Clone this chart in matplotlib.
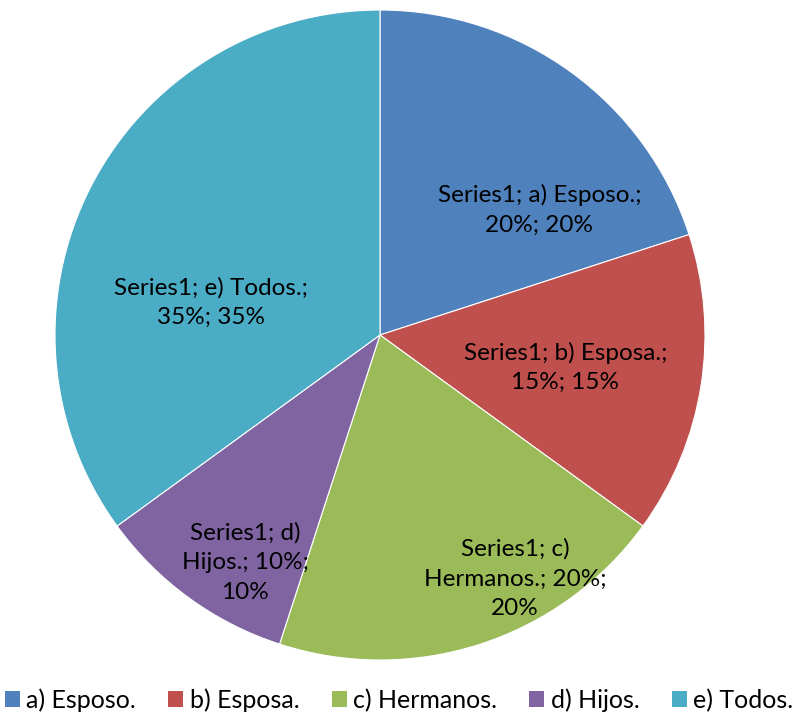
import matplotlib.pyplot as plt
from matplotlib.patches import Patch

plt.rcParams['font.family'] = ['Lato', 'DejaVu Sans']

categories = ["a) Esposo.", "b) Esposa.", "c) Hermanos.", "d) Hijos.", "e) Todos."]
values = [20, 15, 20, 10, 35]
colors = ["#4F81BD", "#C0504D", "#9BBB59", "#8064A2", "#4BACC6"]
series_name = "Series1"

# label text, wrapped like the original
label_texts = [
    "Series1; a) Esposo.;\n20%; 20%",
    "Series1; b) Esposa.;\n15%; 15%",
    "Series1; c)\nHermanos.; 20%;\n20%",
    "Series1; d)\nHijos.; 10%;\n10%",
    "Series1; e) Todos.;\n35%; 35%",
]
# label centres in units of the radius
label_pos = [(0.49, 0.385), (0.57, -0.10), (0.415, -0.75), (-0.415, -0.70), (-0.52, 0.10)]

fig = plt.figure(figsize=(7.98, 7.12), dpi=100)
ax = fig.add_axes([55 / 798, 52 / 712, 650 / 798, 650 / 712])

wedges, _ = ax.pie(values, colors=colors, startangle=90, counterclock=False,
                   radius=1.0, wedgeprops=dict(edgecolor="white", linewidth=0.8))
ax.set_xlim(-1, 1)
ax.set_ylim(-1, 1)
ax.set_aspect("equal")

for txt, (x, y) in zip(label_texts, label_pos):
    ax.text(x, y, txt, ha="center", va="center", fontsize=17.5, linespacing=1.5, color="black")

handles = [Patch(facecolor=c, edgecolor="none") for c in colors]
fig.legend(handles, categories, loc="center", bbox_to_anchor=(0.5, 12 / 712), ncol=5,
           frameon=False, fontsize=18, handlelength=0.6, handleheight=0.6,
           handletextpad=0.25, columnspacing=1.3, borderaxespad=0)

fig.savefig("out.png", dpi=100)
